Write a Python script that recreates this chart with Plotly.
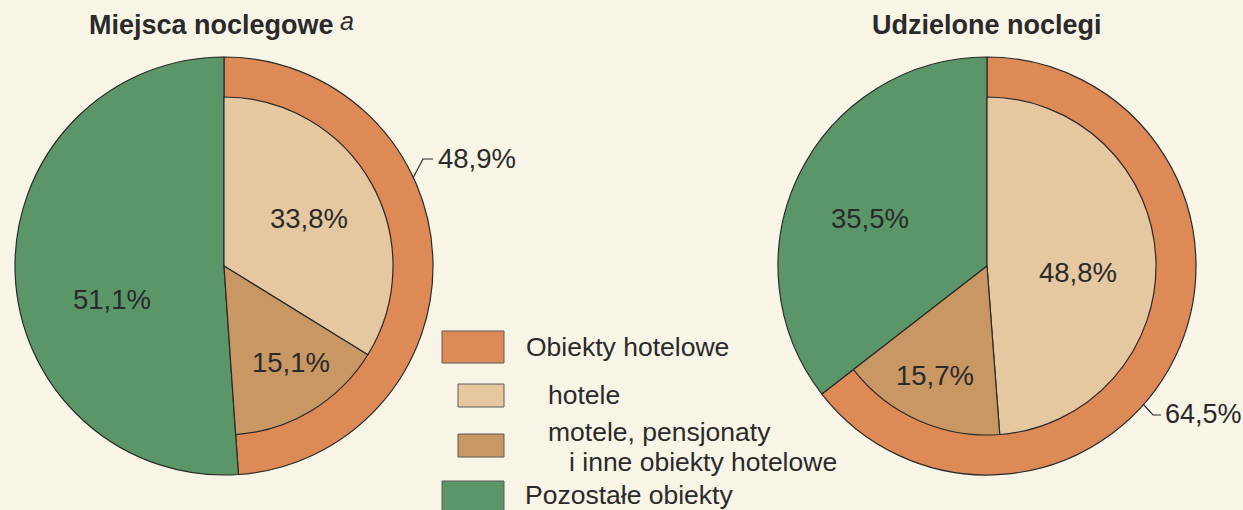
import plotly.graph_objects as go

W, H = 1243, 510

# ---- data ----
titles = ["Miejsca noclegowe", "Udzielone noclegi"]
outer_labels = ["Obiekty hotelowe", "Pozostałe obiekty"]
inner_labels = ["hotele", "motele, pensjonaty i inne obiekty hotelowe", "Pozostałe obiekty"]
left_outer = [48.9, 51.1]
left_inner = [33.8, 15.1, 51.1]
right_outer = [64.5, 35.5]
right_inner = [48.8, 15.7, 35.5]

# ---- style ----
BG = "#f9f5e6"
ORANGE = "#dd8a57"
BEIGE = "#e5c8a0"
BROWN = "#c89764"
GREEN = "#5b9669"
TXT = "#2a2a2a"
LINE = "#2a2a2a"
FONT = "Liberation Sans, Arial, sans-serif"


def px(x):
    return x / W


def py(y):
    return 1 - y / H


def dom(cx, cy, r):
    return dict(x=[px(cx - r), px(cx + r)], y=[py(cy + r), py(cy - r)])


def fmt(v):
    return f"{v:.1f}".replace(".", ",") + "%"


fig = go.Figure()

pies = [
    (224, 266, left_outer, left_inner),
    (987, 266, right_outer, right_inner),
]
R_OUT, R_IN = 209, 169
for cx, cy, outer, inner in pies:
    fig.add_trace(go.Pie(
        labels=outer_labels, values=outer, sort=False, direction="clockwise",
        rotation=0, domain=dom(cx, cy, R_OUT), textinfo="none", hoverinfo="label+value",
        marker=dict(colors=[ORANGE, GREEN], line=dict(color=LINE, width=1.2)),
        showlegend=False,
    ))
    fig.add_trace(go.Pie(
        labels=inner_labels, values=inner, sort=False, direction="clockwise",
        rotation=0, domain=dom(cx, cy, R_IN), textinfo="none", hoverinfo="label+value",
        marker=dict(colors=[BEIGE, BROWN, "rgba(0,0,0,0)"],
                    line=dict(color=LINE, width=[1.2, 1.2, 0])),
        showlegend=False,
    ))

ann = []


def text(x, y, s, size=26.5, anchor="center", bold=False, italic=False):
    if bold:
        s = f"<b>{s}</b>"
    if italic:
        s = f"<i>{s}</i>"
    ann.append(dict(x=px(x), y=py(y), xref="paper", yref="paper", text=s,
                    showarrow=False, xanchor=anchor, yanchor="middle",
                    font=dict(family=FONT, size=size, color=TXT)))


# titles
text(212, 25, titles[0], size=27, bold=True)
text(347, 21, "a", size=25, anchor="center", italic=True)
text(987, 25, titles[1], size=27, bold=True)

# inner labels
PS = 27.5
text(309, 218, fmt(left_inner[0]), size=PS)
text(291, 362, fmt(left_inner[1]), size=PS)
text(112, 299, fmt(left_inner[2]), size=PS)
text(1078, 272, fmt(right_inner[0]), size=PS)
text(935, 375, fmt(right_inner[1]), size=PS)
text(870, 218, fmt(right_inner[2]), size=PS)

# outer labels
text(436, 158, fmt(left_outer[0]), size=PS, anchor="left")
text(1163, 414, fmt(right_outer[0]), size=27, anchor="left")

shapes = []
# leader lines
for pts in ([(413, 178), (423, 159), (433, 159)], [(1143, 404), (1153, 415), (1161, 415)]):
    path = "M " + " L ".join(f"{px(x)},{py(y)}" for x, y in pts)
    shapes.append(dict(type="path", path=path, xref="paper", yref="paper",
                       line=dict(color=LINE, width=1.2)))

# legend
legend_items = [
    (442, 331, 504, 363, ORANGE, outer_labels[0], 524, 347),
    (458, 384, 504, 407, BEIGE, inner_labels[0], 546, 395),
    (458, 434, 504, 457, BROWN, None, None, None),
    (442, 481, 504, 520, GREEN, outer_labels[1], 523, 495),
]
for x0, y0, x1, y1, col, lab, tx, ty in legend_items:
    shapes.append(dict(type="rect", xref="paper", yref="paper",
                       x0=px(x0), x1=px(x1), y0=py(y1), y1=py(y0),
                       fillcolor=col, line=dict(color="#5a5a5a", width=1)))
    if lab:
        text(tx, ty, lab, anchor="left")
text(546, 432, "motele, pensjonaty", anchor="left")
text(567, 462, "i inne obiekty hotelowe", anchor="left")

fig.update_layout(
    width=W, height=H, margin=dict(l=0, r=0, t=0, b=0),
    paper_bgcolor=BG, plot_bgcolor=BG,
    annotations=ann, shapes=shapes, showlegend=False,
)

fig.write_html(
    "out.html",
    config={"displayModeBar": False},
    post_script="document.body.style.margin='0';document.body.style.padding='0';"
                "document.body.style.overflow='hidden';document.body.style.background='%s';" % BG,
)
